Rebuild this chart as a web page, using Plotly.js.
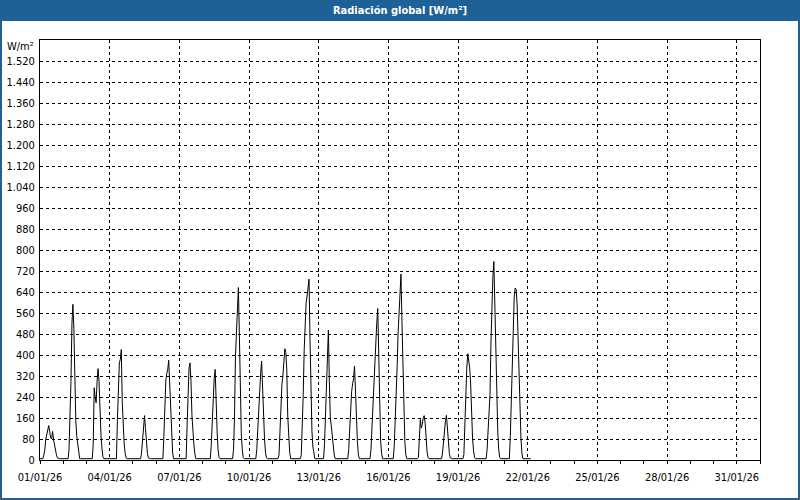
<!DOCTYPE html>
<html>
<head>
<meta charset="utf-8">
<script src="https://cdn.plot.ly/plotly-3.0.1.min.js"></script>
<style>
html,body{margin:0;padding:0;background:#ffffff;}
#chart{width:800px;height:500px;}
</style>
</head>
<body>
<div id="chart"></div>
<script>
// Hourly global radiation (W/m²), hours 00..23 for each day
const d01 = [5,5,5,5,20,40,80,100,115,131,110,85,80,109,77,55,39,20,8,5,5,5,5,5];
const d02 = [5,5,5,5,5,5,40,150,300,520,593,500,250,150,90,52,20,5,5,5,5,5,5,5];
const d03 = [5,5,5,5,5,5,5,60,275,240,218,300,348,300,160,95,45,12,5,5,5,5,5,5];
const d04 = [5,5,5,5,5,5,5,5,154,319,370,383,421,220,130,60,25,8,5,5,5,5,5,5];
const d05 = [5,5,5,5,5,5,5,5,5,30,80,135,169,120,65,25,8,5,5,5,5,5,5,5];
const d06 = [5,5,5,5,5,5,5,5,90,200,300,330,345,380,300,180,90,30,5,5,5,5,5,5];
const d07 = [5,5,5,5,5,5,5,5,130,260,350,370,300,170,100,60,25,5,5,5,5,5,5,5];
const d08 = [5,5,5,5,5,5,5,5,5,60,160,230,310,345,200,110,40,10,5,5,5,5,5,5];
const d09 = [5,5,5,5,5,5,5,5,40,167,396,472,580,657,480,230,100,40,10,5,5,5,5,5];
const d10 = [5,5,5,5,5,5,5,5,40,120,216,280,330,377,250,160,80,30,8,5,5,5,5,5];
const d11 = [5,5,5,5,5,5,5,20,120,243,290,320,396,424,410,345,167,70,30,5,5,5,5,5];
const d12 = [5,5,5,5,5,5,20,110,250,420,540,600,625,660,689,460,230,110,50,15,5,5,5,5];
const d13 = [5,5,5,5,5,5,60,154,300,410,495,300,160,130,90,55,20,5,5,5,5,5,5,5];
const d14 = [5,5,5,5,5,5,5,40,120,200,260,290,310,358,250,150,70,20,5,5,5,5,5,5];
const d15 = [5,5,5,5,5,5,40,130,230,310,390,447,523,577,400,160,70,25,5,5,5,5,5,5];
const d16 = [5,5,5,5,5,5,50,130,216,350,480,570,640,708,530,330,160,70,20,5,5,5,5,5];
const d17 = [5,5,5,5,5,5,5,10,100,154,122,135,160,169,140,80,30,10,5,5,5,5,5,5];
const d18 = [5,5,5,5,5,5,5,5,30,80,120,150,170,110,60,25,8,5,5,5,5,5,5,5];
const d19 = [5,5,5,5,5,5,20,150,260,350,405,376,351,290,150,80,35,10,5,5,5,5,5,5];
const d20 = [5,5,5,5,5,5,40,130,180,250,450,600,700,756,560,380,220,110,40,10,5,5,5,5];
const d21 = [5,5,5,5,5,5,90,230,380,520,618,655,650,595,460,300,190,80,25,5,5,5,5,5];
const d22 = [5,5,5,5];

const dayDates = ['2026-01-01','2026-01-02','2026-01-03','2026-01-04','2026-01-05','2026-01-06',
  '2026-01-07','2026-01-08','2026-01-09','2026-01-10','2026-01-11','2026-01-12','2026-01-13',
  '2026-01-14','2026-01-15','2026-01-16','2026-01-17','2026-01-18','2026-01-19','2026-01-20',
  '2026-01-21','2026-01-22'];
const dailySeries = [d01,d02,d03,d04,d05,d06,d07,d08,d09,d10,d11,d12,d13,d14,d15,d16,d17,d18,d19,d20,d21,d22];

const yTickVals = [0,80,160,240,320,400,480,560,640,720,800,880,960,1040,1120,1200,1280,1360,1440,1520];

const times = [], values = [];
dailySeries.forEach((arr, i) => {
  arr.forEach((v, h) => {
    times.push(dayDates[i] + ' ' + String(h).padStart(2,'0') + ':00');
    values.push(v);
  });
});

const FONT = "Tahoma, 'DejaVu Sans Condensed', 'Liberation Sans', Arial, sans-serif";
const BLUE = '#1e6197';

// page px -> paper coords (plot area: x 40..760, y 40..460)
const px = v => (v - 40) / 720;
const py = v => (460 - v) / 420;

const trace = {
  type: 'scatter', mode: 'lines',
  x: times, y: values,
  line: {color: '#000000', width: 1},
  hoverinfo: 'skip'
};

const layout = {
  width: 800, height: 500,
  margin: {l: 40, r: 40, t: 40, b: 40, pad: 0},
  paper_bgcolor: '#ffffff', plot_bgcolor: '#ffffff',
  separators: ',.',
  showlegend: false,
  font: {family: FONT, size: 11, color: '#000000'},
  title: {
    text: 'Radiación global [W/m²]',
    font: {family: FONT, size: 11, color: '#ffffff', weight: 700},
    x: 0.5, xanchor: 'center', xref: 'container',
    y: 1 - 10.5/500, yanchor: 'middle', yref: 'container'
  },
  xaxis: {
    type: 'date',
    range: ['2026-01-01 00:00', '2026-02-01 00:00'],
    tickmode: 'linear', tick0: '2026-01-01', dtick: 3*86400000,
    tickformat: '%d/%m/%y',
    showgrid: true, gridcolor: '#000000', gridwidth: 1, griddash: '3px,3px',
    showline: true, linecolor: '#000000', linewidth: 1, mirror: true,
    ticks: 'outside', ticklen: 3, tickcolor: '#000000', tickwidth: 1,
    ticklabelstandoff: 4,
    minor: {dtick: 86400000, tick0: '2026-01-01', ticks: 'outside', ticklen: 3, tickcolor: '#000000', tickwidth: 1, showgrid: false},
    zeroline: false, fixedrange: true,
    tickfont: {family: FONT, size: 11, color: '#000000'}
  },
  yaxis: {
    range: [0, 1600],
    tickmode: 'array', tickvals: yTickVals, tickformat: ',d',
    showgrid: true, gridcolor: '#000000', gridwidth: 1, griddash: '3px,3px',
    showline: true, linecolor: '#000000', linewidth: 1, mirror: true,
    ticks: '', ticklabelstandoff: 2,
    zeroline: false, fixedrange: true,
    tickfont: {family: FONT, size: 11, color: '#000000'}
  },
  shapes: [
    {type: 'rect', xref: 'paper', yref: 'paper', x0: px(0), x1: px(800), y0: py(21), y1: py(0),
     fillcolor: BLUE, line: {width: 0}, layer: 'above'},
    {type: 'rect', xref: 'paper', yref: 'paper', x0: px(1), x1: px(799), y0: py(499), y1: py(1),
     fillcolor: 'rgba(0,0,0,0)', line: {color: BLUE, width: 2}, layer: 'above'}
  ],
  annotations: [
    {text: 'W/m²', xref: 'paper', x: 0, xanchor: 'right', xshift: -4,
     yref: 'y', y: 1575, yanchor: 'middle', showarrow: false,
     font: {family: FONT, size: 11, color: '#000000'}}
  ]
};

Plotly.newPlot('chart', [trace], layout, {displayModeBar: false, staticPlot: true});
</script>
</body>
</html>
